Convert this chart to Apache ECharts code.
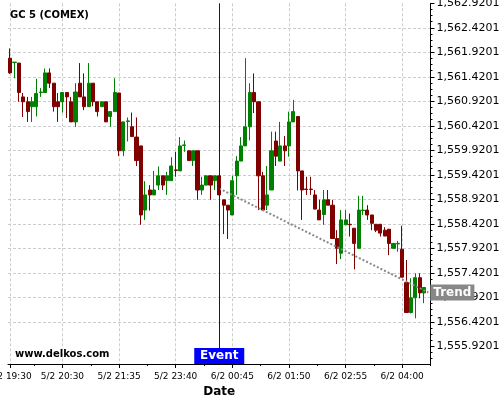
<!DOCTYPE html>
<html><head><meta charset="utf-8">
<script src="https://cdn.jsdelivr.net/npm/echarts@6/dist/echarts.min.js"></script>
<style>html,body{margin:0;padding:0;background:#fff}#c{width:500px;height:400px}</style>
</head><body><div id="c"></div>
<script>
const chartTitle = 'GC 5 (COMEX)';
const watermark = 'www.delkos.com';
const tickIndex = [0, 12, 25, 38, 51, 64, 77, 90];
const tickLabels = ['5/2 19:30','5/2 20:30','5/2 21:35','5/2 23:40','6/2 00:45','6/2 01:50','6/2 02:55','6/2 04:00'];
const minorTickIndex = [6, 19, 32, 45, 58, 71, 84];
const slotCount = 97;
const priceTicks = [1555.9201,1556.4201,1556.9201,1557.4201,1557.9201,1558.4201,1558.9201,
  1559.4201,1559.9201,1560.4201,1560.9201,1561.4201,1561.9201,1562.4201,1562.9201];
const minorPerStep = 4;

const open = [1561.80,1561.71,1561.70,1561.01,1560.91,1560.81,1560.81,1561.10,1561.10,1561.50,
1561.29,1560.91,1560.91,1561.10,1560.91,1560.50,1561.29,1561.01,1560.81,1561.29,
1560.91,1560.81,1560.91,1560.61,1560.71,1561.09,1559.91,1560.51,1560.40,1560.19,
1560.01,1558.70,1559.11,1559.01,1559.21,1559.40,1559.30,1559.30,1559.52,1559.50,
1560.02,1559.91,1559.71,1559.91,1559.11,1559.21,1559.40,1559.30,1559.40,1558.91,
1558.80,1558.60,1559.40,1559.70,1560.01,1560.40,1561.10,1560.91,1559.40,1558.80,
1559.11,1560.11,1559.70,1560.01,1560.01,1560.50,1560.61,1559.50,1559.13,1559.13,
1559.01,1558.70,1558.61,1558.91,1558.80,1558.12,1557.82,1558.40,1558.41,1558.33,
1557.92,1558.69,1558.70,1558.60,1558.41,1558.41,1558.29,1558.31,1557.92,1558.01,
1557.90,1557.22,1556.61,1556.91,1557.32,1557.01];
const close = [1561.50,1561.72,1561.10,1560.91,1560.71,1560.91,1561.08,1561.11,1561.50,1561.29,
1560.81,1560.81,1561.10,1561.01,1560.50,1561.11,1561.01,1560.81,1561.29,1560.91,
1560.71,1560.91,1560.50,1560.71,1561.10,1559.91,1560.50,1560.52,1560.20,1559.71,
1558.60,1559.01,1559.01,1559.11,1559.40,1559.21,1559.40,1559.60,1559.51,1560.01,
1560.03,1559.71,1559.91,1559.11,1559.21,1559.40,1559.21,1559.40,1559.01,1558.80,
1558.70,1559.30,1559.70,1560.01,1560.40,1561.10,1560.91,1559.40,1558.70,1559.01,
1559.91,1559.80,1560.01,1559.91,1560.50,1560.71,1559.50,1559.11,1559.12,1559.12,
1558.72,1558.50,1558.91,1558.80,1558.12,1557.92,1558.50,1558.50,1558.40,1558.02,
1558.70,1558.70,1558.60,1558.43,1558.29,1558.23,1558.17,1558.02,1558.02,1558.02,
1557.33,1556.61,1556.91,1557.32,1557.01,1557.12];
const low = [1561.48,1561.39,1560.91,1560.60,1560.50,1560.50,1560.61,1561.01,1561.10,1561.19,
1560.71,1560.50,1560.69,1560.58,1560.50,1560.40,1561.01,1560.74,1560.81,1560.82,
1560.61,1560.81,1560.50,1560.40,1560.71,1559.80,1559.80,1560.10,1560.20,1559.60,
1558.40,1558.50,1558.69,1559.01,1559.11,1559.11,1559.01,1559.30,1559.38,1559.50,
1559.89,1559.71,1559.60,1558.91,1559.01,1559.21,1558.91,1559.11,1559.01,1558.21,
1558.11,1558.60,1559.01,1559.70,1560.01,1560.12,1560.68,1558.70,1558.70,1558.70,
1559.11,1559.60,1559.70,1559.60,1559.79,1560.50,1559.10,1558.50,1559.01,1559.01,
1558.72,1558.50,1558.40,1558.80,1558.12,1557.60,1557.70,1558.40,1558.16,1557.49,
1557.92,1558.60,1558.50,1558.29,1558.25,1558.16,1558.17,1557.78,1557.92,1557.85,
1557.33,1556.61,1556.59,1556.49,1556.90,1556.80];
const high = [1562.00,1561.72,1561.70,1561.09,1561.01,1561.01,1561.38,1561.19,1561.59,1561.59,
1561.29,1561.09,1561.10,1561.10,1561.01,1561.29,1561.70,1561.49,1561.70,1561.29,
1560.91,1560.91,1560.91,1560.71,1561.39,1561.09,1560.50,1560.59,1560.69,1560.59,
1560.01,1559.29,1559.21,1559.50,1559.59,1559.40,1559.48,1559.78,1559.89,1560.19,
1560.12,1559.91,1559.91,1559.91,1559.38,1559.40,1559.40,1559.40,1559.40,1558.91,
1558.80,1559.40,1559.80,1560.19,1561.80,1561.29,1561.49,1560.91,1559.48,1559.60,
1560.30,1560.30,1560.50,1560.21,1560.71,1560.95,1560.61,1559.50,1559.38,1559.38,
1559.11,1558.91,1559.11,1559.11,1558.91,1558.29,1558.70,1558.70,1558.63,1558.33,
1558.99,1558.99,1558.80,1558.60,1558.41,1558.41,1558.35,1558.31,1558.02,1558.07,
1558.38,1557.68,1557.31,1557.41,1557.41,1557.12];

const eventIndex = 48;
const trendIndex = [48, 96];
const trendValue = [1559.14, 1557.02];
const priceMin = 1555.5588, priceMax = 1562.9201;

const categories = Array.from({length: slotCount}, (_, i) => String(i));
const isMajor = i => tickIndex.includes(i);
const isMinor = i => minorTickIndex.includes(i);
const fmtPrice = v => {
  const s = Number(v).toFixed(4);
  const parts = s.split('.');
  return parts[0].replace(/\B(?=(\d{3})+(?!\d))/g, ',') + '.' + parts[1];
};
const minorTicks = [];
const stepP = priceTicks[1] - priceTicks[0];
for (let k = -minorPerStep; k < priceTicks.length * minorPerStep; k++) {
  const v = Math.round((priceTicks[0] + k * stepP / minorPerStep) * 1e4) / 1e4;
  if (k % minorPerStep !== 0 && v >= priceMin && v <= priceMax) minorTicks.push(v);
}
const candleData = open.map((o, i) => [o, close[i], low[i], high[i]]);
const gridLine = {color: '#cccccc', type: [3, 2], width: 1};

const chart = echarts.init(document.getElementById('c'), null, {renderer: 'canvas'});
chart.setOption({
  animation: false,
  textStyle: {fontFamily: 'DejaVu Sans'},
  title: [
    {text: chartTitle, left: 10, top: 10, padding: 0,
     textStyle: {fontSize: 10, fontWeight: 'bold', color: '#000', fontFamily: 'DejaVu Sans'}},
    {text: watermark, left: 15, top: 349, padding: 0,
     textStyle: {fontSize: 10, fontWeight: 'bold', color: '#000', fontFamily: 'DejaVu Sans'}}
  ],
  grid: {left: 8, right: 69.5, top: 3.3, bottom: 36, containLabel: false, outerBoundsMode: 'none'},
  xAxis: [{
    type: 'category', data: categories, boundaryGap: true,
    axisLine: {show: true, lineStyle: {color: '#000', width: 1}},
    axisTick: {show: true, alignWithLabel: true, interval: isMajor, length: 4, lineStyle: {color: '#000'}},
    axisLabel: {interval: isMajor, fontSize: 9, color: '#000', margin: 8, fontFamily: 'DejaVu Sans',
      formatter: (v, idx) => { const k = tickIndex.indexOf(idx); return k >= 0 ? tickLabels[k] : ''; }},
    splitLine: {show: true, alignWithLabel: true, interval: isMajor, lineStyle: gridLine},
    name: 'Date', nameLocation: 'middle', nameGap: 20,
    nameTextStyle: {fontSize: 12, fontWeight: 'bold', color: '#000', fontFamily: 'DejaVu Sans'}
  }, {
    type: 'category', data: categories, boundaryGap: true, position: 'bottom',
    axisLine: {show: false}, axisLabel: {show: false}, splitLine: {show: false},
    axisTick: {show: true, interval: isMinor, length: 2, lineStyle: {color: '#000'}}
  }],
  yAxis: [{
    type: 'value', position: 'right', min: priceMin, max: priceMax,
    axisLine: {show: true, lineStyle: {color: '#000', width: 1}},
    axisTick: {show: true, length: 4, customValues: priceTicks, lineStyle: {color: '#000'}},
    minorTick: {show: false},
    axisLabel: {margin: 6, fontSize: 11, color: '#000', customValues: priceTicks, formatter: fmtPrice, fontFamily: 'DejaVu Sans'},
    splitLine: {show: true, showMinLine: false, showMaxLine: false, lineStyle: gridLine}
  }, {
    type: 'value', position: 'right', min: priceMin, max: priceMax,
    axisLine: {show: false}, axisLabel: {show: false}, splitLine: {show: false},
    axisTick: {show: true, length: 2, customValues: minorTicks, lineStyle: {color: '#000'}}
  }],
  series: [{
    type: 'candlestick', xAxisIndex: 0, yAxisIndex: 0, data: candleData, barWidth: 3.6,
    itemStyle: {color: '#008000', color0: '#800000', borderColor: '#008000', borderColor0: '#800000', borderWidth: 1},
    markLine: {
      silent: true, animation: false, symbol: ['none', 'none'], z: 6,
      label: {show: false},
      lineStyle: {color: '#0000ff', width: 1, type: 'solid'},
      data: [{xAxis: categories[eventIndex]}]
    },
    markPoint: {
      silent: true, animation: false, z: 7,
      data: [{coord: [categories[eventIndex], priceMin], symbol: 'rect', symbolSize: [50, 16], symbolOffset: [0, -8],
        itemStyle: {color: '#0000ff'},
        label: {show: true, position: 'inside', formatter: 'Event', color: '#fff', fontSize: 12, fontWeight: 'bold', fontFamily: 'DejaVu Sans'}}]
    }
  }, {
    type: 'line', xAxisIndex: 0, yAxisIndex: 0, z: 3, symbol: 'none', silent: true,
    data: [[categories[trendIndex[0]], trendValue[0]], [categories[trendIndex[1]], trendValue[1]]],
    lineStyle: {color: '#888888', width: 2, type: [2, 2]},
    endLabel: {show: true, formatter: 'Trend', color: '#fff', fontSize: 12, fontWeight: 'bold',
      fontFamily: 'DejaVu Sans', backgroundColor: '#888888', padding: [2, 3], distance: 2}
  }]
});
</script>
</body></html>
